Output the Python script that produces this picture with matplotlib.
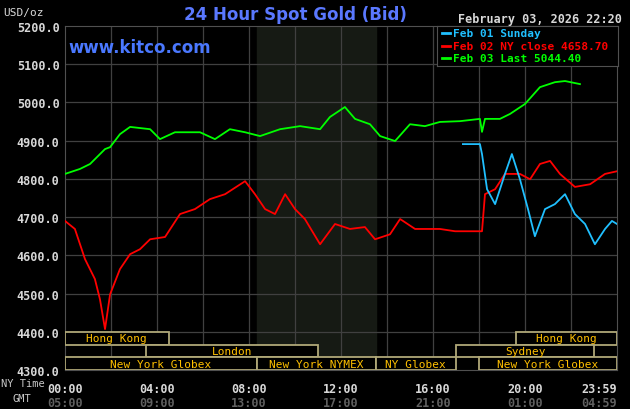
import matplotlib
matplotlib.use("Agg")
import matplotlib.pyplot as plt
from matplotlib.patches import Rectangle

green_h = [0,0.65,1.09,1.74,1.96,2.39,2.83,3.70,4.13,4.78,5.87,6.52,7.17,7.83,8.48,9.35,10.22,11.09,11.52,12.17,12.61,13.26,13.7,14.35,15.0,15.65,16.3,17.17,18.04,18.13,18.26,18.91,19.35,20.0,20.65,21.3,21.74,22.39]
green_v = [4813,4826,4839,4878,4883,4917,4936,4930,4904,4922,4922,4904,4930,4922,4912,4930,4938,4930,4962,4988,4957,4943,4912,4899,4943,4938,4949,4951,4957,4923,4957,4957,4970,4996,5040,5053,5056,5048]
red_h = [0,0.43,0.87,1.30,1.52,1.74,1.96,2.39,2.83,3.26,3.70,4.35,5.0,5.65,6.3,6.96,7.83,8.26,8.70,9.13,9.57,10.0,10.43,11.09,11.74,12.39,13.04,13.48,14.13,14.57,15.22,16.3,16.96,17.61,18.13,18.26,18.7,19.13,19.78,20.22,20.65,21.09,21.52,22.17,22.83,23.48,24]
red_v = [4690,4669,4590,4538,4485,4407,4498,4564,4603,4616,4642,4648,4708,4721,4747,4760,4794,4760,4721,4708,4760,4721,4695,4629,4682,4669,4674,4642,4655,4695,4669,4669,4663,4663,4663,4760,4773,4813,4813,4799,4839,4847,4813,4779,4786,4813,4820]
cyan_h = [17.3,18.04,18.13,18.35,18.7,19.13,19.43,19.78,20.13,20.43,20.87,21.3,21.74,22.17,22.61,23.04,23.48,23.78,24]
cyan_v = [4891,4891,4865,4773,4734,4813,4865,4799,4721,4650,4721,4734,4760,4708,4682,4629,4669,4690,4682]
sessions = [  # row, start, end, label
    (0, 0, 4.5, "Hong Kong"), (0, 19.6, 24, "Hong Kong"),
    (1, 3.5, 11.0, "London"), (1, 17.0, 23.0, "Sydney"),
    (2, 0, 8.33, "New York Globex"), (2, 8.33, 13.5, "New York NYMEX"),
    (2, 13.5, 17.0, "NY Globex"), (2, 18.0, 24, "New York Globex")]
ny_ticks = ["00:00","04:00","08:00","12:00","16:00","20:00","23:59"]
gmt_ticks = ["05:00","09:00","13:00","17:00","21:00","01:00","04:59"]
y_ticks = [4300,4400,4500,4600,4700,4800,4900,5000,5100,5200]

mono = "DejaVu Sans Mono"
fig = plt.figure(figsize=(6.3,4.1), dpi=100, facecolor="black")
ax = fig.add_axes([65/630, 39/410, 552/630, 344/410], facecolor="black")
ax.set_xlim(0,24); ax.set_ylim(4300,5200)
ax.axvspan(8.33,13.5,color="#161a14",zorder=0)
for h in range(2,24,2):
    ax.axvline(h,color="#404040",lw=0.9,zorder=1)
for y in y_ticks[1:-1]:
    ax.axhline(y,color="#404040",lw=0.9,zorder=1)
for s in ax.spines.values():
    s.set_color("#505050")
ax.set_xticks([]); ax.set_yticks(y_ticks)
ax.set_yticklabels([f"{v}.0" for v in y_ticks], color="#d8d8d8", fontfamily=mono, fontweight="bold", fontsize=8.5)
ax.tick_params(axis="y", length=0, pad=4)

ax.plot(red_h, red_v, color="#ff0000", lw=1.3, zorder=3)
ax.plot(cyan_h, cyan_v, color="#20c0ff", lw=1.3, zorder=3)
ax.plot(green_h, green_v, color="#00ff00", lw=1.3, zorder=4)

rh = 100/3
for row, a, b, lab in sessions:
    top = 4400 - row*rh
    ax.add_patch(Rectangle((a, top-rh), b-a, rh, fill=True, fc="black", ec="#b0a878", lw=1.3, zorder=5))
    ax.text((a+b)/2, top-rh/2, lab, color="#ffc000", fontfamily=mono, fontsize=8, ha="center", va="center", zorder=6)

for i,(n,g) in enumerate(zip(ny_ticks, gmt_ticks)):
    x = min(i*4, 24)
    ha = "right" if i == len(ny_ticks)-1 else "center"
    ax.text(x, -0.035, n, transform=ax.get_xaxis_transform(), color="#d8d8d8", fontfamily=mono, fontweight="bold", fontsize=8.5, ha=ha, va="top")
    ax.text(x, -0.075, g, transform=ax.get_xaxis_transform(), color="#606060", fontfamily=mono, fontweight="bold", fontsize=8.5, ha=ha, va="top")
fig.text(1/630, 1-384/410, "NY Time", color="#c8c8c8", fontfamily=mono, fontsize=7.5, va="center")
fig.text(12/630, 1-399/410, "GMT", color="#c8c8c8", fontfamily=mono, fontsize=7.5, va="center")
fig.text(3/630, 1-13/410, "USD/oz", color="#d8d8d8", fontfamily=mono, fontsize=8, va="center")
fig.text(295/630, 1-15/410, "24 Hour Spot Gold (Bid)", color="#5a78ff", fontsize=12, fontweight="bold", ha="center", va="center")
fig.text(68/630, 1-48/410, "www.kitco.com", color="#4a78ff", fontsize=12, fontweight="bold", va="center")
fig.text(622/630, 1-19/410, "February 03, 2026 22:20", color="#d8d8d8", fontfamily=mono, fontweight="bold", fontsize=8.5, ha="right", va="center")

lax = fig.add_axes([437/630, 1-67/410, 181/630, 40/410], facecolor="black")
lax.set_xticks([]); lax.set_yticks([])
for s in lax.spines.values(): s.set_color("#505050")
for i,(t,c) in enumerate([("Feb 01 Sunday","#20c0ff"),("Feb 02 NY close 4658.70","#ff0000"),("Feb 03 Last 5044.40","#00ff00")]):
    yy = 0.82 - i*0.31
    lax.plot([0.03,0.07],[yy,yy],color=c,lw=2,transform=lax.transAxes)
    lax.text(0.09, yy, t, color=c, fontfamily=mono, fontweight="bold", fontsize=8, va="center", transform=lax.transAxes)
fig.savefig("out.png", dpi=100, facecolor="black")
